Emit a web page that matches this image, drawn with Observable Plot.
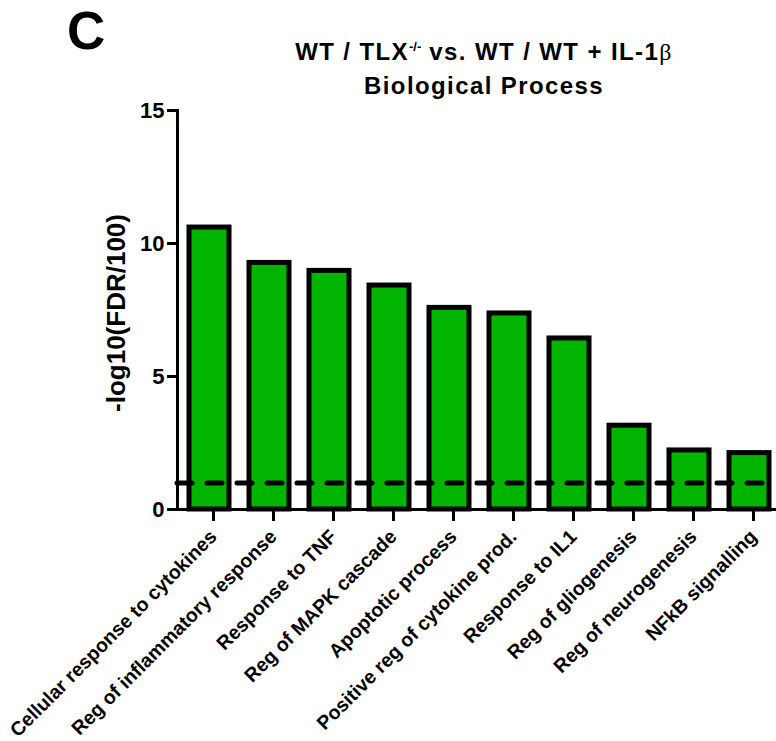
<!DOCTYPE html>
<html>
<head>
<meta charset="utf-8">
<script src="https://cdn.jsdelivr.net/npm/d3@7"></script>
<script src="https://cdn.jsdelivr.net/npm/@observablehq/plot@0.6"></script>
<style>
  body { margin: 0; background: #fff; }
  #wrap { position: relative; width: 776px; height: 741px; font-family: "Liberation Sans", Arial, sans-serif; font-weight: bold; color: #000; }
  #panel { position: absolute; left: 67px; top: 4px; font-size: 53px; line-height: 53px; }
  #title { position: absolute; left: 284px; width: 400px; top: 35px; text-align: center; font-size: 24px; line-height: 33px; letter-spacing: 1.4px; }
  #title sup { font-size: 13px; vertical-align: 9px; line-height: 0; letter-spacing: 0; }
  #title .beta { font-family: "Liberation Serif", serif; font-weight: normal; }
  #ylab { position: absolute; left: 116px; top: 313px; transform: translate(-50%, -50%) rotate(-90deg); white-space: nowrap; font-size: 26px; }
  #chart { position: absolute; left: 0; top: 0; }
</style>
</head>
<body>
<div id="wrap">
  <div id="chart"></div>
  <div id="panel">C</div>
  <div id="title">WT / TLX<sup>-/-</sup> vs. WT / WT + IL-1<span class="beta">β</span><br>Biological Process</div>
  <div id="ylab">-log10(FDR/100)</div>
</div>
<script>
const categories = [
  "Cellular response to cytokines",
  "Reg of inflammatory response",
  "Response to TNF",
  "Reg of MAPK cascade",
  "Apoptotic process",
  "Positive reg of cytokine prod.",
  "Response to IL1",
  "Reg of gliogenesis",
  "Reg of neurogenesis",
  "NFkB signalling"
];
const values = [10.6, 9.27, 8.97, 8.42, 7.58, 7.37, 6.43, 3.15, 2.22, 2.12];
const threshold = [1];
const yTicks = [0, 5, 10, 15];

const data = categories.map((term, i) => ({term, value: values[i]}));

const chart = Plot.plot({
  width: 776,
  height: 741,
  marginTop: 110,
  marginBottom: 232,
  marginLeft: 177,
  marginRight: 0,
  style: {fontFamily: '"Liberation Sans", Arial, sans-serif', fontWeight: "bold", background: "transparent", color: "#000"},
  x: {domain: categories, range: [187.7, 769.5], paddingInner: 0.335, paddingOuter: 0, label: null},
  y: {domain: [0, 15], label: null},
  marks: [
    Plot.barY(data, {x: "term", y: "value", fill: "#00b400", stroke: "#000", strokeWidth: 5}),
    Plot.ruleY(threshold, {stroke: "#000", strokeWidth: 5, strokeDasharray: "15,15", strokeLinecap: "round"}),
    Plot.ruleY([0], {stroke: "#000", strokeWidth: 3}),
    Plot.frame({anchor: "left", stroke: "#000", strokeWidth: 3}),
    Plot.axisY({ticks: yTicks, tickSize: 10, tickPadding: 3, strokeWidth: 3, fontSize: 22, label: null}),
    Plot.axisX({tickSize: 12, tickPadding: 12, dx: 4, strokeWidth: 3, fontSize: 19.5, tickRotate: -45, label: null})
  ]
});
document.getElementById("chart").appendChild(chart);
</script>
</body>
</html>
